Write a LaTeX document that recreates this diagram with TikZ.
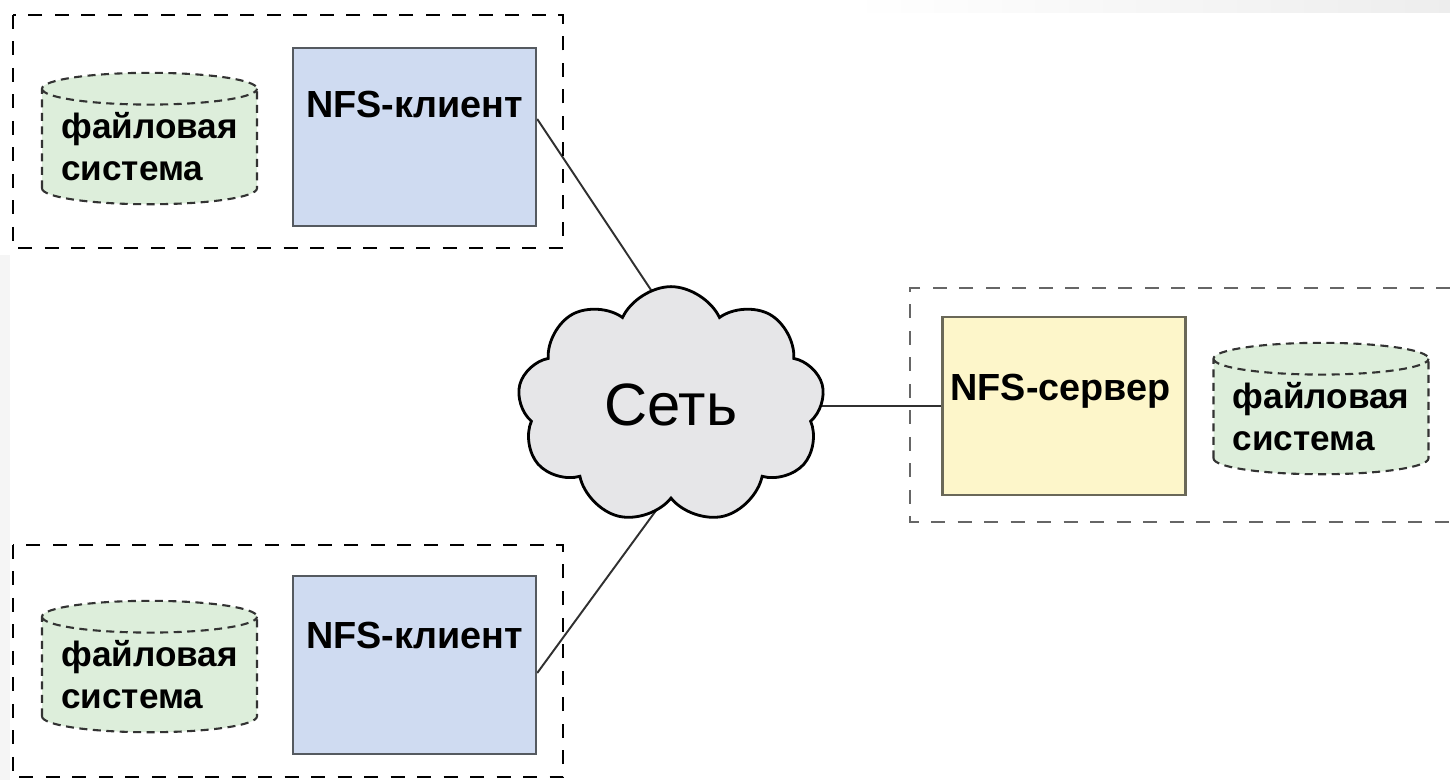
\documentclass[tikz,border=0pt]{standalone}
\usepackage{fontspec}
\setmainfont{Liberation Sans}
\usetikzlibrary{shapes.geometric, shapes.symbols}
\pgfdeclarelayer{bg}
\pgfsetlayers{bg,main}
\definecolor{clientblue}{HTML}{CFDBF1}
\definecolor{srvyellow}{HTML}{FDF6CA}
\definecolor{fsgreen}{HTML}{DDEEDB}
\definecolor{cloudgray}{HTML}{E6E6E8}
\definecolor{boxline}{HTML}{555A60}
\definecolor{srvline}{HTML}{6A6858}
\definecolor{wireline}{HTML}{303030}
\newcommand\lblfont{\bfseries\fontsize{20}{24}\selectfont}
\tikzset{
    grpbox/.style={draw=black, line width=1.1pt, dash pattern=on 0.28cm off 0.25cm},
    client/.style={rectangle, draw=boxline, fill=clientblue, line width=1.4pt,
    	minimum width=4.86cm, minimum height=3.56cm},
    server/.style={client, fill=srvyellow, draw=srvline},
    fs/.style={cylinder, shape border rotate=90, aspect=0.18, draw=black!80,
    	fill=fsgreen, line width=1.2pt, dash pattern=on 0.16cm off 0.11cm,
    	inner xsep=0pt, inner ysep=4pt, minimum width=4.3cm,
    	align=left, font=\lblfont},
    lbl/.style={font=\bfseries\fontsize{21.5}{24}\selectfont, inner sep=0pt,
    	anchor=base west},
    cloudnet/.style={cloud, cloud puffs=9, cloud puff arc=130, draw=black,
    	fill=cloudgray, line width=1.6pt, minimum width=6.14cm,
    	minimum height=4.52cm, font=\fontsize{34}{40}\selectfont}
}

\begin{document}
\begin{tikzpicture}
	\useasboundingbox (0cm, 0cm) rectangle (29cm, -15.6cm);
	% slide background
	\fill[left color=white, right color=black!7] (17cm, 0cm) rectangle (29cm, -0.26cm);
	\fill[black!4] (0cm, -5.1cm) rectangle (0.2cm, -15.6cm);

	% machine boundaries
	\draw[grpbox] (0.26cm, -0.30cm) rectangle (11.26cm, -4.96cm);
	\draw[grpbox] (0.26cm, -10.90cm) rectangle (11.26cm, -15.54cm);
	\draw[grpbox, draw=black!60] (29cm, -5.76cm) -| (18.2cm, -10.44cm) -- (29cm, -10.44cm);

	\node (fs1) [fs] at (2.99cm, -2.94cm) {файловая\\система};
	\node (cl1) [client] at (8.29cm, -2.74cm) {};
	\node (cl1txt) [lbl] at ([xshift=0.28cm, yshift=-1.42cm]cl1.north west) {NFS-клиент};

	\node (fs2) [fs] at (2.99cm, -13.50cm) {файловая\\система};
	\node (cl2) [client] at (8.29cm, -13.30cm) {};
	\node (cl2txt) [lbl] at ([xshift=0.28cm, yshift=-1.48cm]cl2.north west) {NFS-клиент};

	\node (srv) [server] at (21.28cm, -8.12cm) {};
	\node (srvtxt) [lbl] at ([xshift=0.18cm, yshift=-1.70cm]srv.north west) {NFS-сервер};
	\node (fs3) [fs] at (26.42cm, -8.34cm) {файловая\\система};

	\node (net) [cloudnet] at (13.42cm, -8.10cm) {Сеть};

	\begin{pgfonlayer}{bg}
	\draw[draw=wireline, line width=1.1pt] ([yshift=0.36cm]cl1.east) -- ([yshift=1.7cm]net.center);
	\draw[draw=wireline, line width=1.1pt] ([yshift=-0.16cm]cl2.east) -- ([yshift=-1.7cm]net.center);
	\draw[draw=wireline, line width=1.1pt] (srv.west -| net.center) -- (srv.west);
	\end{pgfonlayer}
\end{tikzpicture}
\end{document}
